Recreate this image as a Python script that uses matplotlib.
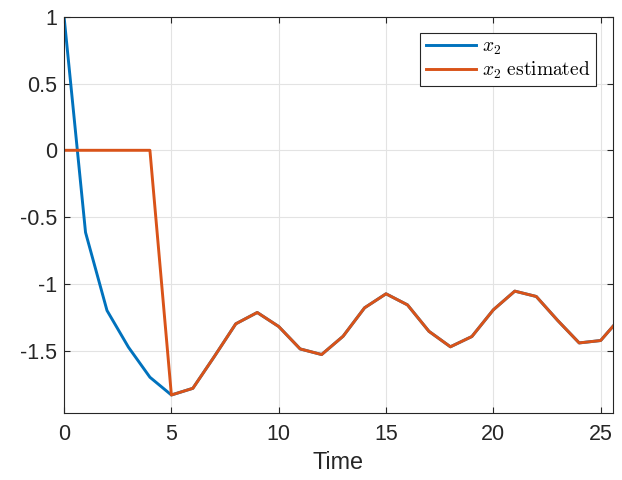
import numpy as np
import matplotlib
matplotlib.use("Agg")
import matplotlib.pyplot as plt

plt.rcParams["font.family"] = ["Liberation Sans", "DejaVu Sans"]
plt.rcParams["mathtext.fontset"] = "cm"

# ── data ──────────────────────────────────────────────
t = np.arange(0, 27)
x2 = [1.0, -0.615, -1.20, -1.475, -1.70, -1.833, -1.783, -1.545, -1.30, -1.215,
      -1.32, -1.488, -1.53, -1.393, -1.18, -1.075, -1.158, -1.356, -1.472, -1.395,
      -1.195, -1.055, -1.095, -1.275, -1.443, -1.425, -1.24]
x2_est = [0.0, 0.0, 0.0, 0.0, 0.0, -1.833, -1.783, -1.545, -1.30, -1.215,
          -1.32, -1.488, -1.53, -1.393, -1.18, -1.075, -1.158, -1.356, -1.472, -1.395,
          -1.195, -1.055, -1.095, -1.275, -1.443, -1.425, -1.24]

BLUE, ORANGE, TXT = "#0072BD", "#D95319", "#262626"

fig = plt.figure(figsize=(6.22, 4.8), dpi=100)
ax = fig.add_axes([0.103, 0.139, 0.882, 0.826])

ax.plot(t, x2, color=BLUE, lw=2.1, label=r"$x_2$")
ax.plot(t, x2_est, color=ORANGE, lw=2.1, label=r"$x_2\ \mathrm{estimated}$")

ax.set_xlim(0, 25.56)
ax.set_ylim(-1.97, 1)
ax.set_xticks([0, 5, 10, 15, 20, 25])
ax.set_yticks([-1.5, -1, -0.5, 0, 0.5, 1])
ax.set_yticklabels(["-1.5", "-1", "-0.5", "0", "0.5", "1"])
ax.grid(True, color="#e3e3e3", lw=0.8)
ax.set_axisbelow(True)
ax.tick_params(direction="in", length=4, width=0.8, colors=TXT, labelsize=15.5,
               top=True, right=True, pad=5)
ax.tick_params(axis="x", pad=8)
for s in ax.spines.values():
    s.set_color(TXT)
    s.set_linewidth(0.8)
ax.set_xlabel("Time", fontsize=16.8, color=TXT, labelpad=4)

leg = ax.legend(loc="upper right", bbox_to_anchor=(0.97, 0.96), fontsize=14,
                fancybox=False, framealpha=1, edgecolor=TXT, borderpad=0.3,
                handlelength=2.6, handletextpad=0.3, labelspacing=0.1, borderaxespad=0)
leg.get_frame().set_linewidth(0.8)

fig.savefig("out.png", dpi=100)
